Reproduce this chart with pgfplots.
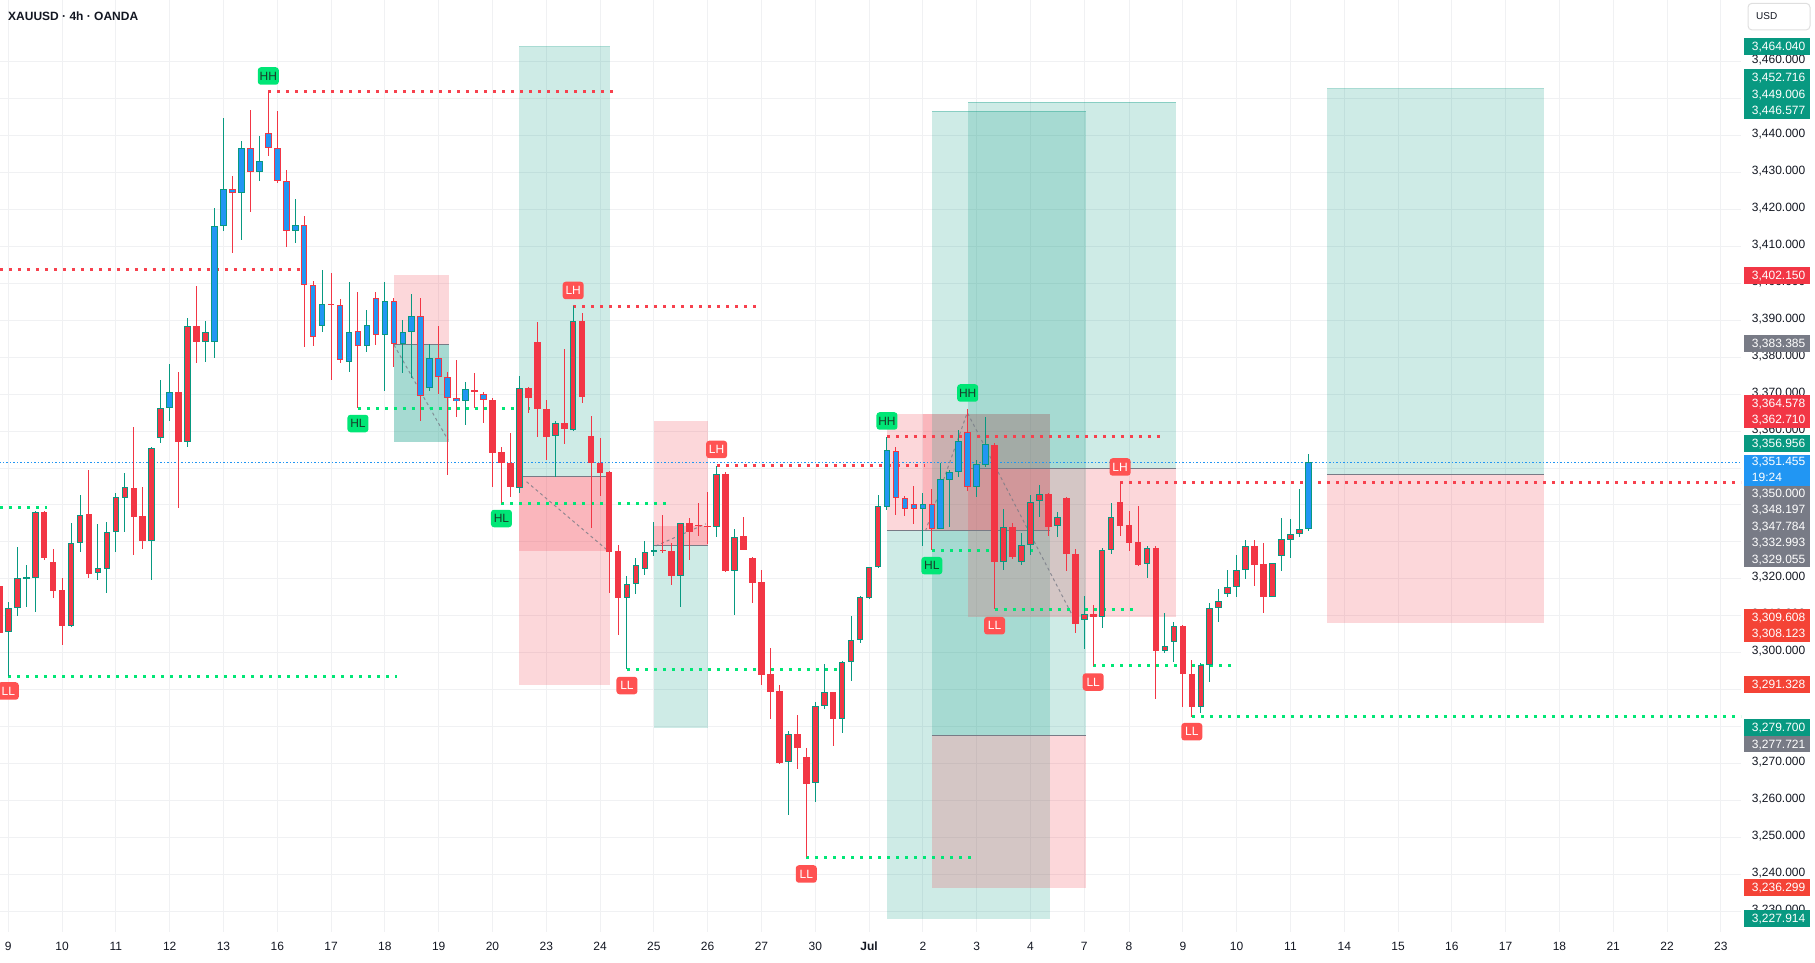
\documentclass[border=0pt]{standalone}
\usepackage{pgfplots}
\pgfplotsset{compat=1.18}
\usepackage{pgfplotstable}
\usepackage{fontspec}
\setmainfont{Liberation Sans}
\definecolor{tvgreen}{HTML}{089981}
\definecolor{tvred}{HTML}{F23645}
\definecolor{tvred2}{HTML}{F44336}
\definecolor{tvblue}{HTML}{2196F3}
\definecolor{lblgreen}{HTML}{00E676}
\definecolor{lblred}{HTML}{FF5252}
\definecolor{lbltxt}{HTML}{173D2A}
\definecolor{tvgrey}{HTML}{787B86}
\definecolor{gridc}{HTML}{F0F1F3}
\definecolor{txt}{HTML}{131722}
\definecolor{dotred}{HTML}{F7414E}
\definecolor{dotgreen}{HTML}{00E676}

\pgfplotstableread{
i o h l c f
-1 3318.1 3319.7 3303.5 3305.4 0
0 3305.6 3313.8 3293.7 3312.0 0
1 3312.0 3328.7 3310.0 3320.2 0
2 3320.2 3323.8 3312.5 3320.3 0
3 3320.2 3338.5 3311.1 3338.0 0
4 3338.0 3338.4 3325.1 3325.7 0
5 3324.5 3328.1 3314.9 3316.8 0
6 3317.0 3320.2 3302.1 3307.3 0
7 3307.3 3335.0 3307.1 3329.6 0
8 3329.6 3342.7 3327.4 3337.2 0
9 3337.6 3349.5 3320.3 3321.4 0
10 3321.5 3334.9 3319.7 3322.9 0
11 3322.6 3335.3 3316.1 3332.6 0
12 3332.6 3343.2 3327.4 3342.1 0
13 3341.8 3348.7 3332.8 3344.8 0
14 3344.5 3361.2 3326.5 3336.8 0
15 3337.0 3345.0 3328.2 3330.3 0
16 3330.3 3355.8 3319.7 3355.3 0
17 3358.1 3373.8 3356.7 3366.2 0
18 3366.2 3378.1 3362.8 3370.5 1
19 3370.5 3376.1 3339.1 3357.0 0
20 3357.0 3390.5 3355.8 3388.4 0
21 3388.4 3399.3 3378.4 3384.0 0
22 3384.0 3389.8 3378.6 3386.7 0
23 3384.0 3420.3 3379.9 3415.4 1
24 3415.4 3444.7 3414.2 3425.4 1
25 3425.4 3429.1 3408.3 3424.4 1
26 3424.4 3438.5 3411.7 3436.6 1
27 3436.6 3446.9 3419.4 3430.2 1
28 3430.2 3439.9 3427.8 3433.0 1
29 3440.6 3451.9 3434.5 3436.5 1
30 3436.5 3446.6 3427.1 3427.8 1
31 3427.8 3430.7 3409.9 3414.1 1
32 3414.1 3422.8 3411.0 3415.8 1
33 3415.7 3418.2 3382.8 3399.5 1
34 3399.5 3400.7 3383.1 3385.4 1
35 3388.5 3403.6 3386.9 3394.3 1
36 3394.4 3402.7 3373.8 3394.3 0
37 3394.0 3395.8 3378.4 3379.2 1
38 3378.8 3400.4 3376.1 3386.7 1
39 3387.0 3397.7 3366.2 3383.0 1
40 3383.0 3392.8 3381.5 3388.6 1
41 3395.9 3397.7 3383.3 3385.9 1
42 3385.9 3400.4 3370.9 3395.2 1
43 3395.2 3395.9 3377.4 3383.7 1
44 3383.7 3390.1 3375.8 3386.7 1
45 3386.7 3397.0 3374.3 3391.1 1
46 3391.1 3396.1 3362.8 3369.4 1
47 3371.6 3383.5 3370.9 3379.7 1
48 3379.7 3388.4 3370.0 3374.7 1
49 3374.7 3376.1 3348.1 3368.9 1
50 3368.9 3379.2 3363.9 3368.1 1
51 3368.1 3373.4 3361.7 3371.4 1
52 3371.0 3375.8 3366.2 3370.5 1
53 3370.0 3370.7 3362.3 3368.3 1
54 3368.4 3368.9 3345.0 3354.2 0
55 3354.3 3355.8 3340.5 3351.3 0
56 3351.4 3359.6 3342.2 3344.8 0
57 3344.5 3374.9 3343.3 3371.6 0
58 3371.7 3372.0 3365.0 3368.9 0
59 3384.2 3389.6 3358.5 3365.9 0
60 3366.0 3368.4 3352.2 3358.5 0
61 3358.7 3362.7 3347.5 3362.1 0
62 3362.1 3382.2 3356.5 3360.5 0
63 3360.3 3393.9 3360.1 3389.9 0
64 3389.9 3391.9 3367.7 3369.3 0
65 3358.7 3364.1 3333.7 3351.3 0
66 3351.3 3358.0 3342.4 3348.7 0
67 3348.9 3349.2 3316.3 3327.4 0
68 3327.5 3329.1 3304.8 3314.9 0
69 3314.9 3320.8 3295.5 3318.5 0
70 3318.7 3325.6 3316.0 3323.7 0
71 3322.8 3330.3 3321.1 3327.2 0
72 3327.2 3335.5 3326.2 3327.7 0
73 3327.8 3337.3 3326.9 3327.7 0
74 3327.5 3329.8 3318.4 3320.9 0
75 3320.9 3335.2 3312.5 3335.0 0
76 3335.0 3336.6 3325.1 3332.6 0
77 3334.5 3340.5 3331.7 3334.4 0
78 3334.3 3343.4 3329.4 3334.2 0
79 3334.1 3350.6 3331.4 3348.4 0
80 3348.4 3349.0 3321.9 3322.1 0
81 3322.2 3333.4 3310.2 3331.4 0
82 3331.6 3336.8 3327.7 3327.8 0
83 3325.6 3325.8 3313.6 3319.0 0
84 3319.2 3322.4 3291.3 3294.0 0
85 3294.3 3301.2 3282.1 3289.5 0
86 3289.7 3291.3 3269.9 3270.2 0
87 3270.4 3278.9 3256.1 3277.9 0
88 3278.0 3283.2 3268.6 3274.3 0
89 3271.8 3274.3 3244.7 3264.6 0
90 3264.7 3286.6 3259.7 3285.7 0
91 3285.7 3297.0 3284.8 3289.3 0
92 3289.3 3289.4 3274.9 3282.1 0
93 3282.1 3297.8 3278.4 3297.4 0
94 3297.4 3310.0 3292.4 3303.4 0
95 3303.4 3315.4 3302.7 3315.0 0
96 3314.8 3323.3 3314.5 3323.1 0
97 3323.1 3342.7 3323.0 3339.6 0
98 3339.5 3358.5 3338.6 3354.9 1
99 3354.5 3355.6 3337.3 3341.8 1
100 3341.8 3342.4 3337.1 3338.8 1
101 3340.2 3345.1 3334.9 3339.0 1
102 3339.0 3343.2 3329.0 3340.2 1
103 3340.2 3344.3 3327.7 3333.6 1
104 3333.6 3351.3 3333.4 3347.0 1
105 3346.8 3349.5 3334.1 3348.9 1
106 3348.9 3360.3 3347.5 3357.3 1
107 3359.7 3365.9 3343.9 3344.8 1
108 3344.8 3352.2 3342.2 3351.0 1
109 3350.9 3363.7 3350.4 3356.4 1
110 3356.2 3356.7 3311.8 3324.6 0
111 3324.5 3338.8 3322.4 3334.0 0
112 3334.0 3335.0 3325.4 3326.0 0
113 3324.5 3332.3 3323.8 3329.1 0
114 3329.1 3342.7 3326.5 3340.9 0
115 3341.0 3345.4 3336.8 3342.9 0
116 3343.0 3343.2 3331.7 3334.1 0
117 3334.2 3338.2 3331.2 3336.7 0
118 3341.9 3342.2 3322.2 3326.7 0
119 3326.7 3328.0 3305.4 3307.8 0
120 3309.0 3315.4 3301.1 3310.4 0
121 3310.4 3312.9 3296.4 3309.6 0
122 3309.6 3328.3 3306.6 3327.7 0
123 3327.7 3340.5 3326.7 3336.8 0
124 3340.7 3346.1 3331.7 3334.4 0
125 3334.6 3338.4 3327.6 3329.8 0
126 3329.9 3339.7 3323.6 3323.8 0
127 3324.0 3328.9 3320.3 3328.3 0
128 3328.3 3328.9 3287.4 3300.6 0
129 3300.6 3310.8 3299.9 3301.8 0
130 3302.8 3308.3 3297.6 3307.2 0
131 3307.2 3307.4 3285.4 3294.2 0
132 3294.3 3298.1 3282.7 3285.3 0
133 3285.3 3297.2 3283.6 3296.6 0
134 3296.6 3313.4 3292.2 3312.0 0
135 3312.0 3317.2 3308.4 3314.0 0
136 3315.8 3322.4 3315.2 3317.7 0
137 3317.7 3326.5 3315.2 3322.3 0
138 3322.3 3330.5 3320.1 3328.8 0
139 3328.8 3330.5 3318.1 3323.8 0
140 3324.0 3329.6 3310.7 3315.2 0
141 3315.2 3324.4 3315.0 3324.2 0
142 3326.1 3336.4 3322.2 3330.7 0
143 3330.5 3336.1 3325.6 3332.1 0
144 3332.2 3344.3 3331.4 3333.4 0
145 3333.4 3353.7 3333.0 3351.5 1
}\candles

\pgfplotsset{
  tgbox/.style={forget plot, draw=none, fill=tvgreen, fill opacity=0.2},
  rdbox/.style={forget plot, draw=none, fill=tvred, fill opacity=0.2},
  entryln/.style={forget plot, draw=tvgrey, line width=1pt},
  tgedge/.style={forget plot, draw=tvgreen, draw opacity=0.35, line width=1pt},
  rdot/.style={forget plot, draw=dotred, line width=3pt, dash pattern=on 3pt off 6pt},
  gdot/.style={forget plot, draw=dotgreen, line width=3pt, dash pattern=on 3pt off 6pt},
  dashln/.style={forget plot, draw=tvgrey, draw opacity=0.8, line width=1pt, dash pattern=on 3pt off 3pt},
  candle/.style 2 args={forget plot, draw=none, mark=none, mark size=0pt, mark options={draw=none, fill=none},
    error bars/y dir=both, error bars/y explicit, error bars/error mark=none,
    error bars/error bar style={draw=#1, line width=#2, solid}},
}
\tikzset{
  glab/.style={fill=lblgreen, text=lbltxt, rounded corners=3pt, inner sep=0pt, minimum width=21pt, minimum height=17.5pt, font=\fontsize{12}{12}\selectfont},
  rlab/.style={fill=lblred, text=white, rounded corners=3pt, inner sep=0pt, minimum width=21pt, minimum height=17.5pt, font=\fontsize{12}{12}\selectfont},
}

\begin{document}
\begin{tikzpicture}
\path[use as bounding box] (0pt,0pt) rectangle (1815pt,962pt);
\begin{axis}[
  at={(0pt,30pt)}, anchor=south west,
  scale only axis, width=1741pt, height=932pt,
  xmin=-0.926, xmax=193.25, ymin=3224.43, ymax=3476.67,
  axis line style={draw=none},
  major tick length=0pt,
  grid=major, grid style={draw=gridc, line width=1pt},
  xtick={0,6,12,18,24,30,36,42,48,54,60,66,72,78,84,90,96,102,108,114,120,125,131,137,143,149,155,161,167,173,179,185,191},
  xticklabels={9,10,11,12,13,16,17,18,19,20,23,24,25,26,27,30,\textbf{Jul},2,3,4,7,8,9,10,11,14,15,16,17,18,21,22,23},
  xticklabel style={anchor=base, yshift=-18.3pt, inner sep=0pt, text=txt, font=\fontsize{12}{14}\selectfont},
  ytick={3230,3240,...,3460},
  scaled y ticks=false,
  yticklabel pos=right,
  yticklabel style={anchor=base west, inner sep=0pt, xshift=10.7pt, yshift=-2pt, text=txt, font=\fontsize{12}{14}\selectfont,
    /pgf/number format/.cd, fixed, fixed zerofill, precision=3, 1000 sep={,}, assume math mode=true},
]
% ---- position tools ----
% Box A (short)
\addplot[rdbox] coordinates {(43,3383.385) (49.1,3383.385) (49.1,3402.150) (43,3402.150)};
\addplot[tgbox] coordinates {(43,3356.956) (49.1,3356.956) (49.1,3383.385) (43,3383.385)};
\addplot[tgbox] coordinates {(43,3356.956) (49.1,3356.956) (49.1,3383.385) (43,3383.385)};
\addplot[entryln] coordinates {(43,3383.385) (49.1,3383.385)};
% Box B (long)
\addplot[tgbox] coordinates {(57,3347.784) (67.1,3347.784) (67.1,3464.040) (57,3464.040)};
\addplot[rdbox] coordinates {(57,3291.328) (67.1,3291.328) (67.1,3347.784) (57,3347.784)};
\addplot[rdbox] coordinates {(57,3327.55) (67.1,3327.55) (67.1,3347.784) (57,3347.784)};
\addplot[tgedge] coordinates {(57,3464.040) (67.1,3464.040)};
\addplot[entryln] coordinates {(57,3347.784) (67.1,3347.784)};
% Box C (short)
\addplot[rdbox] coordinates {(72,3329.055) (78.07,3329.055) (78.07,3362.710) (72,3362.710)};
\addplot[rdbox] coordinates {(72,3329.055) (78.07,3329.055) (78.07,3334.3) (72,3334.3)};
\addplot[tgbox] coordinates {(72,3279.700) (78.07,3279.700) (78.07,3329.055) (72,3329.055)};
\addplot[entryln] coordinates {(72,3329.055) (78.07,3329.055)};
% P1 (short)
\addplot[rdbox] coordinates {(98,3332.993) (116.2,3332.993) (116.2,3364.578) (98,3364.578)};
\addplot[rdbox] coordinates {(102,3332.993) (116.2,3332.993) (116.2,3364.578) (102,3364.578)};
\addplot[tgbox] coordinates {(98,3227.914) (116.2,3227.914) (116.2,3332.993) (98,3332.993)};
% P2 (long)
\addplot[tgbox] coordinates {(103,3277.721) (120.2,3277.721) (120.2,3446.577) (103,3446.577)};
\addplot[rdbox] coordinates {(103,3236.299) (120.2,3236.299) (120.2,3277.721) (103,3277.721)};
\addplot[tgedge] coordinates {(103,3446.577) (120.2,3446.577)};
% P3 (long)
\addplot[tgbox] coordinates {(107.04,3350) (130.24,3350) (130.24,3449.006) (107.04,3449.006)};
\addplot[rdbox] coordinates {(107.04,3309.608) (130.24,3309.608) (130.24,3350) (107.04,3350)};
\addplot[tgedge] coordinates {(107.04,3449.006) (130.24,3449.006)};
% P4 (long)
\addplot[tgbox] coordinates {(147.08,3348.197) (171.3,3348.197) (171.3,3452.716) (147.08,3452.716)};
\addplot[rdbox] coordinates {(147.08,3308.123) (171.3,3308.123) (171.3,3348.197) (147.08,3348.197)};
\addplot[tgedge] coordinates {(147.08,3452.716) (171.3,3452.716)};
% entry lines
\addplot[entryln] coordinates {(98,3332.993) (116.2,3332.993)};
\addplot[entryln] coordinates {(103,3277.721) (120.2,3277.721)};
\addplot[entryln] coordinates {(107.04,3350) (130.24,3350)};
\addplot[entryln] coordinates {(147.08,3348.197) (171.3,3348.197)};
% dashed trade paths
\addplot[dashln] coordinates {(43.02,3383.3) (49.04,3357.6)};
\addplot[dashln] coordinates {(57.8,3346.3) (66.8,3327.8)};
\addplot[dashln] coordinates {(72.2,3328.9) (77.8,3334.9)};
\addplot[dashln] coordinates {(102.3,3333.0) (106.9,3364.6)};
\addplot[dashln] coordinates {(107.0,3364.8) (118.7,3310.0)};
% current price line
\addplot[forget plot, draw=tvblue, line width=1pt, dash pattern=on 1.5pt off 2pt] coordinates {(-1,3351.455) (194,3351.455)};
% ---- structure levels ----
\addplot[rdot] coordinates {(29,3451.85) (67.45,3451.85)};
\addplot[rdot] coordinates {(-0.93,3403.79) (32.5,3403.79)};
\addplot[gdot] coordinates {(39,3366.17) (58.2,3366.17)};
\addplot[gdot] coordinates {(-0.93,3339.37) (4.3,3339.37)};
\addplot[gdot] coordinates {(0,3293.71) (43.35,3293.71)};
\addplot[rdot] coordinates {(63,3393.85) (83.4,3393.85)};
\addplot[gdot] coordinates {(55,3340.46) (73.4,3340.46)};
\addplot[gdot] coordinates {(69,3295.53) (92.5,3295.53)};
\addplot[rdot] coordinates {(79,3350.55) (102.2,3350.55)};
\addplot[gdot] coordinates {(89,3244.65) (107.5,3244.65)};
\addplot[rdot] coordinates {(98,3358.48) (128.45,3358.48)};
\addplot[gdot] coordinates {(103,3327.74) (114.3,3327.74)};
\addplot[gdot] coordinates {(110,3311.77) (125.4,3311.77)};
\addplot[gdot] coordinates {(121,3296.43) (136.5,3296.43)};
\addplot[rdot] coordinates {(124,3346.14) (194,3346.14)};
\addplot[gdot] coordinates {(132,3282.70) (194,3282.70)};
% ---- candles: wicks ----
\addplot[candle={tvgreen}{1pt}]
  table[x=i, y expr={\thisrow{c}>=\thisrow{o} ? 0.5*(\thisrow{h}+\thisrow{l}) : nan}, y error expr={0.5*(\thisrow{h}-\thisrow{l})}] {\candles};
\addplot[candle={tvred}{1pt}]
  table[x=i, y expr={\thisrow{c}<\thisrow{o} ? 0.5*(\thisrow{h}+\thisrow{l}) : nan}, y error expr={0.5*(\thisrow{h}-\thisrow{l})}] {\candles};
% ---- candles: body borders ----
\addplot[candle={tvgreen}{6.6pt}]
  table[x=i, y expr={\thisrow{c}>=\thisrow{o} ? 0.5*(\thisrow{o}+\thisrow{c}) : nan}, y error expr={max(0.5*abs(\thisrow{c}-\thisrow{o}),0.15)}] {\candles};
\addplot[candle={tvred}{6.6pt}]
  table[x=i, y expr={\thisrow{c}<\thisrow{o} ? 0.5*(\thisrow{o}+\thisrow{c}) : nan}, y error expr={max(0.5*abs(\thisrow{c}-\thisrow{o}),0.15)}] {\candles};
% ---- candles: body fills ----
\addplot[candle={tvred}{4.6pt}]
  table[x=i, y expr={(\thisrow{f}<0.5 && abs(\thisrow{c}-\thisrow{o})>0.6) ? 0.5*(\thisrow{o}+\thisrow{c}) : nan}, y error expr={max(0.5*abs(\thisrow{c}-\thisrow{o})-0.27,0.01)}] {\candles};
\addplot[candle={tvblue}{4.6pt}]
  table[x=i, y expr={(\thisrow{f}>0.5 && abs(\thisrow{c}-\thisrow{o})>0.6) ? 0.5*(\thisrow{o}+\thisrow{c}) : nan}, y error expr={max(0.5*abs(\thisrow{c}-\thisrow{o})-0.27,0.01)}] {\candles};
% ---- swing labels ----
\node[glab] at (axis cs:29,3456.1) {HH};
\node[glab] at (axis cs:39,3362.05) {HL};
\node[rlab] at (axis cs:0,3289.66) {LL};
\node[rlab] at (axis cs:63,3398.05) {LH};
\node[glab] at (axis cs:55,3336.34) {HL};
\node[rlab] at (axis cs:69,3291.14) {LL};
\node[rlab] at (axis cs:79,3355.02) {LH};
\node[rlab] at (axis cs:89,3240.13) {LL};
\node[glab] at (axis cs:98,3362.73) {HH};
\node[glab] at (axis cs:107,3370.31) {HH};
\node[glab] at (axis cs:103,3323.57) {HL};
\node[rlab] at (axis cs:110,3307.33) {LL};
\node[rlab] at (axis cs:124,3350.28) {LH};
\node[rlab] at (axis cs:121,3292.09) {LL};
\node[rlab] at (axis cs:132,3278.64) {LL};
\end{axis}
\begin{scope}[x=1pt,y=1pt]
% title
\node[anchor=base west, inner sep=0pt, text=txt, font=\bfseries\fontsize{12}{14}\selectfont] at (8,941.3) {XAUUSD · 4h · OANDA};
% USD box
\draw[draw=gray!25, line width=1pt, fill=white, rounded corners=4pt] (1748,932) rectangle (1810,958.7);
\node[anchor=base west, inner sep=0pt, text=txt, font=\fontsize{10}{12}\selectfont] at (1756,942) {USD};
% price tags
\foreach \yc/\txt/\col in {
  46.7/{3,464.040}/tvgreen, 77.3/{3,452.716}/tvgreen, 93.9/{3,449.006}/tvgreen, 110.5/{3,446.577}/tvgreen,
  275.3/{3,402.150}/tvred, 343.7/{3,383.385}/tvgrey, 403/{3,364.578}/tvred, 419.4/{3,362.710}/tvred,
  443.7/{3,356.956}/tvgreen,
  493.3/{3,350.000}/tvgrey, 509.7/{3,348.197}/tvgrey, 526.1/{3,347.784}/tvgrey, 542.5/{3,332.993}/tvgrey, 558.9/{3,329.055}/tvgrey,
  617/{3,309.608}/tvred2, 633.6/{3,308.123}/tvred2, 684.3/{3,291.328}/tvred2,
  727.3/{3,279.700}/tvgreen, 743.9/{3,277.721}/tvgrey,
  887.3/{3,236.299}/tvred2, 918.3/{3,227.914}/tvgreen} {
  \fill[\col] (1744,{962-\yc-8.3}) rectangle (1810,{962-\yc+8.3});
  \node[anchor=base west, inner sep=0pt, text=white, font=\fontsize{12}{14}\selectfont] at (1751.7,{962-\yc-4.25}) {\txt};
}
% live price tag
\fill[tvblue] (1744,{962-486}) rectangle (1810,{962-455});
\node[anchor=base west, inner sep=0pt, text=white, font=\fontsize{12}{14}\selectfont] at (1751.7,{962-461.7-4.25}) {3,351.455};
\node[anchor=base west, inner sep=0pt, text=white, font=\fontsize{12}{14}\selectfont] at (1751.7,{962-477-4.25}) {19:24};
\end{scope}
\end{tikzpicture}
\end{document}
